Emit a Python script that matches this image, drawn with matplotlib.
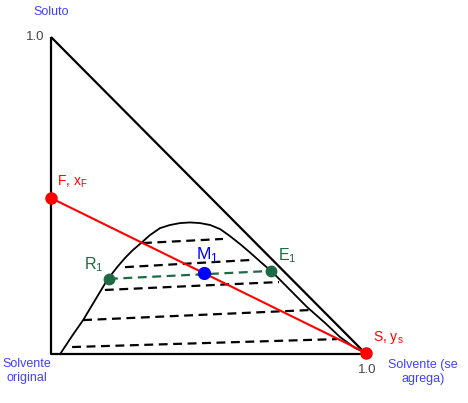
import matplotlib
matplotlib.use("Agg")
import matplotlib.pyplot as plt

plt.rcParams['font.family'] = ['Liberation Sans', 'DejaVu Sans']

# binodal curve (x = solvent added, y = solute)
curve_x = [0.029, 0.067, 0.102, 0.140, 0.178, 0.210, 0.235, 0.260, 0.286, 0.314, 0.346,
           0.378, 0.410, 0.441, 0.473, 0.505, 0.537, 0.568, 0.600, 0.632, 0.667, 0.702,
           0.759, 0.813, 0.870, 0.917, 0.965, 1.000]
curve_y = [0.000, 0.057, 0.107, 0.170, 0.233, 0.274, 0.303, 0.328, 0.350, 0.375, 0.397,
           0.407, 0.413, 0.415, 0.413, 0.407, 0.394, 0.372, 0.347, 0.320, 0.289, 0.259,
           0.202, 0.148, 0.098, 0.054, 0.019, 0.003]

# tie lines (raffinate end -> extract end)
tie_x0 = [0.292, 0.235, 0.171, 0.102, 0.067]
tie_y0 = [0.350, 0.274, 0.202, 0.107, 0.022]
tie_x1 = [0.546, 0.641, 0.724, 0.829, 0.908]
tie_y1 = [0.363, 0.297, 0.227, 0.139, 0.047]

# named points
F = (0.0, 0.492)
S = (1.0, 0.004)
M1 = (0.486, 0.256)
R1 = (0.184, 0.237)
E1 = (0.698, 0.262)

blue_txt = "#4040ff"
green = "#1e6a45"

fig = plt.figure(figsize=(4.68, 4.03), dpi=100)
ax = fig.add_axes([0, 0, 1, 1])
ax.set_xlim(-51 / 315, 417 / 315)
ax.set_ylim(-49 / 317, 354 / 317)
ax.axis("off")

# triangle
ax.plot([0, 0, 1, 0], [1, 0, 0, 1], color="black", lw=1.6, solid_capstyle="butt")

# binodal
ax.plot(curve_x, curve_y, color="black", lw=1.3, solid_joinstyle="round")

# tie lines
for x0, y0, x1, y1 in zip(tie_x0, tie_y0, tie_x1, tie_y1):
    ax.plot([x0, x1], [y0, y1], color="black", lw=1.6, dashes=(4, 2.5))
ax.plot([R1[0], E1[0]], [R1[1], E1[1]], color=green, lw=1.6, dashes=(4, 2.5))

# mixing line
ax.plot([F[0], S[0]], [F[1], S[1]], color="red", lw=1.5)

ax.plot(*F, "o", color="red", ms=8)
ax.plot(*S, "o", color="red", ms=8)
ax.plot(*R1, "o", color=green, ms=7.5)
ax.plot(*E1, "o", color=green, ms=7.5)
ax.plot(*M1, "o", color="blue", ms=8.5)

def px(x, y):
    return (x - 51) / 315, (354 - y) / 317

fs = 9
ax.text(*px(51, 12), "Soluto", color=blue_txt, fontsize=fs, ha="center", va="center")
ax.text(*px(44, 37), "1.0", color="#444444", fontsize=fs + 0.5, ha="right", va="center")
ax.text(*px(367, 370), "1.0", color="#444444", fontsize=fs + 0.5, ha="center", va="center")
ax.text(*px(57, 182), r"F, x$_\mathregular{F}$", color="red", fontsize=fs + 1, ha="left", va="center")
ax.text(*px(373, 337), r"S, y$_\mathregular{s}$", color="red", fontsize=fs + 1, ha="left", va="center")
ax.text(*px(84, 265), r"R$_\mathregular{1}$", color=green, fontsize=fs + 2.5, ha="left", va="center")
ax.text(*px(278, 256), r"E$_\mathregular{1}$", color=green, fontsize=fs + 2.5, ha="left", va="center")
ax.text(*px(196, 255), r"M$_\mathregular{1}$", color="blue", fontsize=fs + 3.5, ha="left", va="center")
ax.text(*px(27, 371), "Solvente\noriginal", color=blue_txt, fontsize=fs, ha="center", va="center",
        linespacing=1.3)
ax.text(*px(423, 372), "Solvente (se\nagrega)", color=blue_txt, fontsize=fs, ha="center", va="center",
        linespacing=1.3)

fig.savefig("out.png", dpi=100)
